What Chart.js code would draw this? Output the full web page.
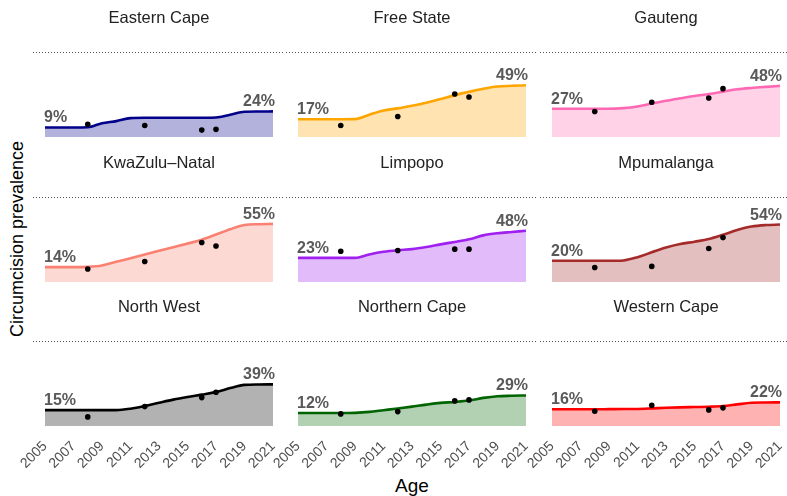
<!DOCTYPE html>
<html>
<head>
<meta charset="utf-8">
<script src="https://cdn.jsdelivr.net/npm/chart.js@4.4.1/dist/chart.umd.min.js"></script>
<style>
html, body { margin: 0; padding: 0; background: #fff; overflow: hidden; }
#wrap { position: relative; width: 787px; height: 496px; overflow: hidden; }
#wrap canvas { position: absolute; }
.ytitle { position: absolute; left: 17px; top: 239px; transform: translate(-50%, -50%) rotate(-90deg);
  font: 18px 'Liberation Sans', Arial, sans-serif; line-height: 1; white-space: nowrap; color: #000; }
.xtitle { position: absolute; left: 412px; top: 476px; transform: translateX(-50%);
  font: 19px 'Liberation Sans', Arial, sans-serif; line-height: 1; white-space: nowrap; color: #000; }
</style>
</head>
<body>
<div id="wrap">
  <div class="ytitle">Circumcision prevalence</div>
  <div class="xtitle">Age</div>
</div>
<script>
var years = [2005, 2006, 2007, 2008, 2009, 2010, 2011, 2012, 2013, 2014, 2015, 2016, 2017, 2018, 2019, 2020, 2021];
var tickYears = [2005, 2007, 2009, 2011, 2013, 2015, 2017, 2019, 2021];
var surveyYears = [2008, 2012, 2016, 2017];

var provinces = ['Eastern Cape', 'Free State', 'Gauteng', 'KwaZulu\u2013Natal', 'Limpopo', 'Mpumalanga',
  'North West', 'Northern Cape', 'Western Cape'];

// modelled prevalence (%), one value per year
var easternCape  = [9, 9, 9, 9.2, 13, 15, 17.8, 18.1, 18.1, 18.1, 18.1, 18.2, 18.4, 21, 23.8, 24, 24.2];
var freeState    = [16.8, 16.8, 16.8, 16.8, 16.9, 21, 25, 27, 29.5, 32.3, 35.8, 39.5, 42.6, 45.5, 47.6, 48.3, 48.8];
var gauteng      = [26.6, 26.6, 26.6, 26.6, 26.6, 27.2, 28.8, 31.6, 34.2, 36.5, 38.7, 40.6, 42.8, 45, 46.3, 47.3, 48.2];
var kwazuluNatal = [14, 14, 14, 14.3, 15.6, 19, 22.5, 26, 29.4, 32.8, 36.2, 39.8, 44.8, 49.8, 53.8, 54.5, 54.8];
var limpopo      = [22.8, 22.8, 22.8, 22.8, 22.8, 26, 28.5, 30, 31, 33, 35.5, 37.8, 40.3, 44, 46, 47.2, 48.4];
var mpumalanga   = [20, 20, 20, 20, 20, 20.3, 23.4, 28, 32.5, 35.8, 38, 40.5, 44.5, 49, 52.3, 53.7, 54.2];
var northWest    = [15, 15, 15, 15, 15, 15, 16.3, 18.8, 21.9, 24.9, 27.4, 29.6, 32, 35.8, 38.8, 39.2, 39.3];
var northernCape = [12.2, 12.2, 12.2, 12.2, 12.4, 13.3, 14.9, 16.5, 18.3, 20.2, 21.8, 22.7, 24, 26.5, 28.1, 28.5, 28.8];
var westernCape  = [15.8, 15.8, 15.8, 15.8, 15.9, 16, 16.1, 16.6, 17.2, 17.6, 17.9, 18.2, 18.8, 20.4, 21.9, 22.2, 22.3];

// survey estimates (%), at surveyYears
var easternCapeSurvey  = [12, 10.9, 6.5, 7.2];
var freeStateSurvey    = [10.9, 19.3, 40.6, 37.8];
var gautengSurvey      = [24, 32.8, 36.8, 45.6];
var kwazuluNatalSurvey = [12.2, 19.4, 37.2, 34];
var limpopoSurvey      = [29, 29.7, 31, 31];
var mpumalangaSurvey   = [13.7, 14.7, 31.6, 41.9];
var northWestSurvey    = [8.6, 18.3, 26.8, 31.8];
var northernCapeSurvey = [11.4, 13.6, 23.7, 24.6];
var westernCapeSurvey  = [13.9, 19.6, 15.2, 17.1];

var curves = [easternCape, freeState, gauteng, kwazuluNatal, limpopo, mpumalanga, northWest, northernCape, westernCape];
var surveys = [easternCapeSurvey, freeStateSurvey, gautengSurvey, kwazuluNatalSurvey, limpopoSurvey,
  mpumalangaSurvey, northWestSurvey, northernCapeSurvey, westernCapeSurvey];
var colours = ['#00008B', '#FFA500', '#FF69B4', '#FA8072', '#A020F0', '#A52A2A', '#000000', '#006400', '#FF0000'];

Chart.defaults.font.family = "'Liberation Sans', Arial, sans-serif";

function fade(hex, a) {
  var r = parseInt(hex.substr(1, 2), 16), g = parseInt(hex.substr(3, 2), 16), b = parseInt(hex.substr(5, 2), 16);
  return 'rgba(' + r + ',' + g + ',' + b + ',' + a + ')';
}

var panelDecor = {
  id: 'panelDecor',
  beforeDraw: function(chart, args, opts) {
    var ctx = chart.ctx;
    var y = Math.round(chart.chartArea.top) + 0.5;
    ctx.save();
    ctx.strokeStyle = '#555';
    ctx.lineWidth = 1;
    ctx.setLineDash([1, 2]);
    ctx.beginPath();
    ctx.moveTo(opts.from, y);
    ctx.lineTo(opts.to, y);
    ctx.stroke();
    ctx.restore();
  },
  afterDatasetsDraw: function(chart) {
    var ctx = chart.ctx;
    var meta = chart.getDatasetMeta(1);
    var data = chart.data.datasets[1].data;
    var first = meta.data[0], last = meta.data[meta.data.length - 1];
    ctx.save();
    ctx.font = "bold 16px 'Liberation Sans', Arial, sans-serif";
    ctx.fillStyle = '#595959';
    ctx.textBaseline = 'alphabetic';
    ctx.textAlign = 'left';
    ctx.fillText(Math.round(data[0].y) + '%', first.x - 1, first.y - 5);
    ctx.textAlign = 'right';
    ctx.fillText(Math.round(data[data.length - 1].y) + '%', last.x + 2, last.y - 5);
    ctx.restore();
  }
};

var wrap = document.getElementById('wrap');
var colLefts = [45, 298, 552];
var rowTops = [0, 145, 289];

provinces.forEach(function(name, i) {
  var col = i % 3, row = Math.floor(i / 3);
  var isBottom = row === 2;
  var left = colLefts[col] - 45;
  var height = isBottom ? 496 - rowTops[row] : 145;

  var canvas = document.createElement('canvas');
  canvas.width = 318;
  canvas.height = height;
  canvas.style.left = left + 'px';
  canvas.style.top = rowTops[row] + 'px';
  wrap.appendChild(canvas);

  var curvePts = years.map(function(y, k) { return { x: y, y: curves[i][k] }; });
  var surveyPts = surveyYears.map(function(y, k) { return { x: y, y: surveys[i][k] }; });

  new Chart(canvas, {
    type: 'line',
    data: {
      datasets: [{
        data: surveyPts,
        showLine: false,
        pointRadius: 2.8,
        pointBorderWidth: 0,
        pointBackgroundColor: '#000',
        borderColor: '#000'
      }, {
        data: curvePts,
        borderColor: colours[i],
        backgroundColor: fade(colours[i], 0.3),
        fill: 'origin',
        borderWidth: 2.6,
        pointRadius: 0,
        cubicInterpolationMode: 'monotone'
      }]
    },
    options: {
      responsive: false,
      animation: false,
      events: [],
      layout: { padding: { left: 45, right: 45, top: 0, bottom: isBottom ? 0 : 8 } },
      plugins: {
        legend: { display: false },
        tooltip: { enabled: false },
        title: {
          display: true,
          text: name,
          color: '#222',
          font: { size: 16.5, weight: 'normal' },
          padding: { top: 8.4, bottom: 24.0 }
        },
        panelDecor: { from: 33, to: Math.min(285, 787 - left) }
      },
      scales: {
        x: {
          type: 'linear',
          min: 2005,
          max: 2021,
          display: isBottom,
          grid: { display: false, drawTicks: false },
          border: { display: false },
          afterBuildTicks: function(axis) {
            axis.ticks = tickYears.map(function(v) { return { value: v }; });
          },
          afterFit: function(axis) { if (isBottom) { axis.height = 70; } },
          ticks: {
            autoSkip: false,
            maxRotation: 45,
            minRotation: 45,
            padding: 12,
            color: '#4d4d4d',
            font: { size: 14 },
            callback: function(v) { return String(v); }
          }
        },
        y: { display: false, min: 0, max: 80 }
      }
    },
    plugins: [panelDecor]
  });
});
</script>
</body>
</html>
